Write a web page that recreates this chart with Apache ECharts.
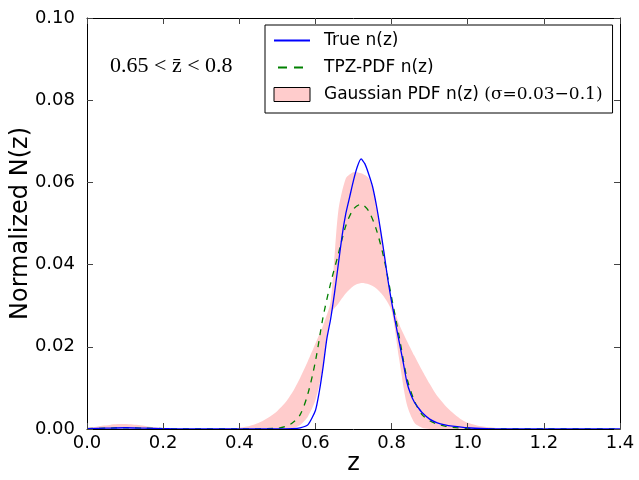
<!DOCTYPE html>
<html><head><meta charset="utf-8">
<script src="https://cdn.jsdelivr.net/npm/echarts@6/dist/echarts.min.js"></script>
<style>html,body{margin:0;padding:0;background:#fff}#c{width:639px;height:480px}</style>
</head><body><div id="c"></div>
<script>
// ---- data ----
const bandZ = [0.00,0.02,0.04,0.06,0.08,0.10,0.12,0.14,0.16,0.18,0.20,0.22,0.24,0.26,0.28,0.30,0.32,0.34,0.36,0.38,0.40,0.42,0.44,0.46,0.48,0.50,0.52,0.54,0.56,0.58,0.60,0.62,0.64,0.66,0.68,0.70,0.72,0.74,0.76,0.78,0.80,0.82,0.84,0.86,0.88,0.90,0.92,0.94,0.96,0.98,1.00,1.02,1.04,1.06,1.08,1.10,1.12,1.14,1.20,1.30,1.40];
const bandHigh = [0.0003,0.0005,0.0008,0.0010,0.0012,0.0012,0.0011,0.0009,0.0006,0.0004,0.0002,0.0001,0.0000,0.0000,0.0000,0.0000,0.0000,0.0000,0.0001,0.0002,0.0003,0.0006,0.0011,0.0019,0.0030,0.0044,0.0063,0.0090,0.0125,0.0165,0.0208,0.0252,0.0310,0.0530,0.0610,0.0625,0.0622,0.0610,0.0550,0.0435,0.0315,0.0255,0.0215,0.0178,0.0143,0.0110,0.0080,0.0058,0.0040,0.0025,0.0015,0.0010,0.0006,0.0004,0.0002,0.0001,0.0000,0.0000,0.0000,0.0000,0.0000];
const bandLow  = [0.0000,0.0001,0.0001,0.0002,0.0002,0.0002,0.0002,0.0002,0.0001,0.0001,0.0000,0.0000,0.0000,0.0000,0.0000,0.0000,0.0000,0.0000,0.0000,0.0000,0.0000,0.0000,0.0000,0.0000,0.0000,0.0000,0.0000,0.0002,0.0010,0.0030,0.0070,0.0150,0.0280,0.0305,0.0330,0.0348,0.0355,0.0352,0.0342,0.0322,0.0288,0.0170,0.0060,0.0015,0.0003,0.0000,0.0000,0.0000,0.0000,0.0000,0.0000,0.0000,0.0000,0.0000,0.0000,0.0000,0.0000,0.0000,0.0000,0.0000,0.0000];

const trueZ = [0.00,0.05,0.10,0.15,0.20,0.25,0.30,0.40,0.50,0.54,0.56,0.58,0.60,0.61,0.62,0.63,0.64,0.65,0.66,0.67,0.68,0.69,0.70,0.71,0.72,0.73,0.74,0.75,0.76,0.77,0.78,0.79,0.80,0.81,0.82,0.83,0.84,0.85,0.86,0.87,0.88,0.90,0.92,0.94,0.96,1.00,1.05,1.10,1.20,1.40];
const trueN = [0.0001,0.0002,0.0003,0.0002,0.0001,0.0000,0.0000,0.0000,0.0000,0.0001,0.0003,0.0010,0.0045,0.0090,0.0150,0.0220,0.0268,0.0330,0.0400,0.0470,0.0525,0.0565,0.0605,0.0638,0.0657,0.0645,0.0620,0.0590,0.0545,0.0490,0.0430,0.0365,0.0310,0.0260,0.0212,0.0165,0.0115,0.0085,0.0065,0.0052,0.0040,0.0024,0.0015,0.0010,0.0007,0.0003,0.0001,0.0000,0.0000,0.0000];

const tpzZ = [0.00,0.05,0.10,0.15,0.20,0.25,0.30,0.40,0.50,0.52,0.54,0.56,0.58,0.60,0.62,0.64,0.66,0.68,0.70,0.72,0.74,0.76,0.78,0.80,0.82,0.84,0.86,0.88,0.90,0.92,0.94,0.96,1.00,1.10,1.20,1.40];
const tpzN = [0.0001,0.0002,0.0003,0.0002,0.0001,0.0000,0.0000,0.0000,0.0002,0.0006,0.0015,0.0035,0.0085,0.0165,0.0272,0.0355,0.0425,0.0495,0.0535,0.0547,0.0530,0.0485,0.0415,0.0320,0.0225,0.0125,0.0068,0.0035,0.0020,0.0012,0.0007,0.0004,0.0001,0.0000,0.0000,0.0000];

const xTicks = [0.0,0.2,0.4,0.6,0.8,1.0,1.2,1.4];
const yTicks = [0.00,0.02,0.04,0.06,0.08,0.10];

const nameTrue = 'True n(z)';
const nameTpz = 'TPZ-PDF n(z)';
const nameBand = 'Gaussian PDF n(z)';

// ---- chart ----
const zip = (a,b)=>a.map((v,i)=>[v,b[i]]);
const chart = echarts.init(document.getElementById('c'), null, {renderer:'canvas'});
const font = 'DejaVu Sans';
const axisCommon = {
  min: 0, axisLine:{show:true,onZero:false,lineStyle:{color:'#000',width:1}},
  axisTick:{show:true,inside:true,length:6,lineStyle:{color:'#444'}},
  splitLine:{show:false}, z:5, nameMoveOverlap:false
};
chart.setOption({
  animation:false,
  grid:{left:87,right:19,top:18,bottom:51,containLabel:false,outerBoundsMode:'none'},
  xAxis:[
    Object.assign({}, axisCommon, {type:'value',max:1.4,interval:0.2,position:'bottom',
      axisLabel:{fontFamily:font,fontSize:18,color:'#000',margin:5,formatter:v=>v.toFixed(1)},
      name:'z',nameLocation:'middle',nameGap:23,nameTextStyle:{fontFamily:font,fontSize:24,color:'#000',verticalAlign:'top'}}),
    Object.assign({}, axisCommon, {type:'value',max:1.4,interval:0.2,position:'top',axisLabel:{show:false}})
  ],
  yAxis:[
    Object.assign({}, axisCommon, {type:'value',max:0.10,interval:0.02,position:'left',
      axisLabel:{fontFamily:font,fontSize:18,color:'#000',margin:12,formatter:v=>v.toFixed(2)},
      name:'Normalized N(z)',nameLocation:'middle',nameGap:54,nameTextStyle:{fontFamily:font,fontSize:24,color:'#000',verticalAlign:'bottom'}}),
    Object.assign({}, axisCommon, {type:'value',max:0.10,interval:0.02,position:'right',axisLabel:{show:false}})
  ],
  legend:{
    orient:'vertical', left:265, top:25,
    backgroundColor:'#fff', borderColor:'#000', borderWidth:1, borderRadius:0,
    padding:[7,10,10,8], itemGap:10, itemWidth:36, itemHeight:14,
    textStyle:{fontFamily:font,fontSize:17,color:'#000',padding:[0,0,0,9],
      rich:{m:{fontFamily:'DejaVu Serif',fontSize:17,color:'#000'}}},
    formatter: n => n===nameBand ? n+' {m|(σ=0.03−0.1)}' : n,
    data:[
      {name:nameTrue, itemStyle:{opacity:0}},
      {name:nameTpz, itemStyle:{opacity:0}, lineStyle:{type:[9,7],dashOffset:-4}},
      {name:nameBand, icon:'rect', itemStyle:{color:'#ffcccc',borderColor:'#000',borderWidth:1}}
    ]
  },
  graphic:[{type:'text',left:110,top:55,z:10,
    style:{text:'0.65 < z̄ < 0.8',font:'22px "Liberation Serif"',fill:'#000'}}],
  series:[
    {name:nameBand,type:'custom',data:[0],clip:true,z:1,itemStyle:{color:'#ffcccc'},
     renderItem:(params, api)=>{
       const up = bandZ.map((z,i)=>api.coord([z,bandHigh[i]]));
       const lo = bandZ.map((z,i)=>api.coord([z,bandLow[i]])).reverse();
       return {type:'polygon',shape:{points:up.concat(lo),smooth:0.25},style:{fill:'#ffcccc',stroke:null}};
     }},
    {name:nameTpz,type:'line',data:zip(tpzZ,tpzN),symbol:'none',smooth:0.3,
     lineStyle:{color:'#008000',width:1.3,type:[6,6]},itemStyle:{color:'#008000'},z:3},
    {name:nameTrue,type:'line',data:zip(trueZ,trueN),symbol:'none',smooth:0.2,
     lineStyle:{color:'#0000ff',width:1.3},itemStyle:{color:'#0000ff'},z:4}
  ]
});
</script></body></html>
